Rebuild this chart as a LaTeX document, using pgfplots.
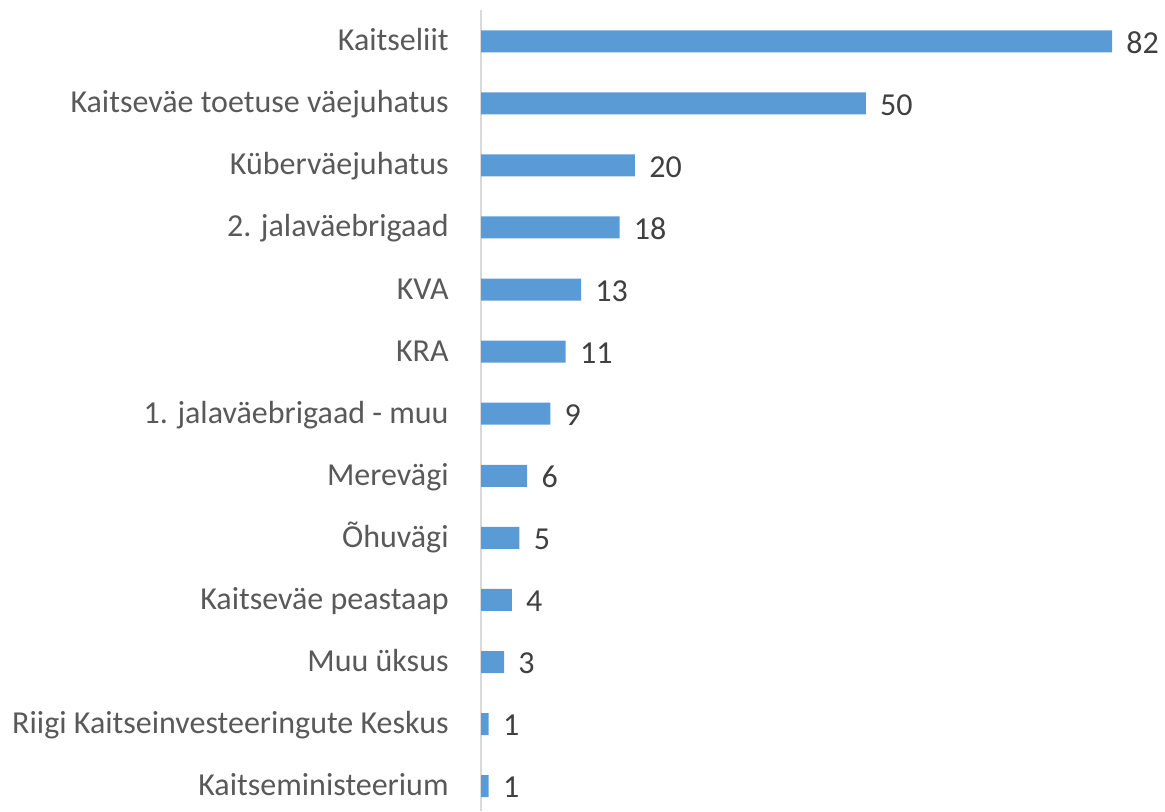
\documentclass[border=0pt]{standalone}
\usepackage{fontspec}
\setmainfont{Carlito}
\usepackage{pgfplots}
\pgfplotsset{compat=1.18}
\definecolor{barblue}{RGB}{91,155,213}
\definecolor{axisgray}{RGB}{217,217,217}
\definecolor{labelgray}{RGB}{89,89,89}
\definecolor{numgray}{RGB}{64,64,64}
\begin{document}
\begin{tikzpicture}
\useasboundingbox (0,0) rectangle (582.5pt,405.5pt);
\begin{axis}[
  at={(240.5pt,0pt)}, anchor=south west,
  scale only axis, width=338.6pt, height=400.4pt,
  xbar, bar width=11pt,
  xmin=0, xmax=88, ymin=-0.5, ymax=12.4, y dir=reverse,
  axis x line=none, axis y line*=left,
  y axis line style={draw=axisgray, line width=0.75pt, -},
  ytick={0,...,12},
  yticklabels={Kaitseliit, Kaitseväe toetuse väejuhatus, Küberväejuhatus, 2. jalaväebrigaad, KVA, KRA, 1. jalaväebrigaad - muu, Merevägi, Õhuvägi, Kaitseväe peastaap, Muu üksus, Riigi Kaitseinvesteeringute Keskus, Kaitseministeerium},
  major tick length=0pt,
  yticklabel style={anchor=east, inner sep=0pt, xshift=-16pt, yshift=-2pt, font=\fontsize{16}{19}\selectfont, text=labelgray, text height=0.65em, text depth=0.1em},
  /pgf/number format/assume math mode=true,
  nodes near coords,
  nodes near coords style={anchor=west, inner sep=0pt, xshift=7pt, yshift=-0.75pt, font=\fontsize{16}{19}\selectfont, text=numgray},
]
\addplot[fill=barblue, draw=none] coordinates {
  (82,0) (50,1) (20,2) (18,3) (13,4) (11,5) (9,6) (6,7) (5,8) (4,9) (3,10) (1,11) (1,12)
};
\end{axis}
\end{tikzpicture}
\end{document}
